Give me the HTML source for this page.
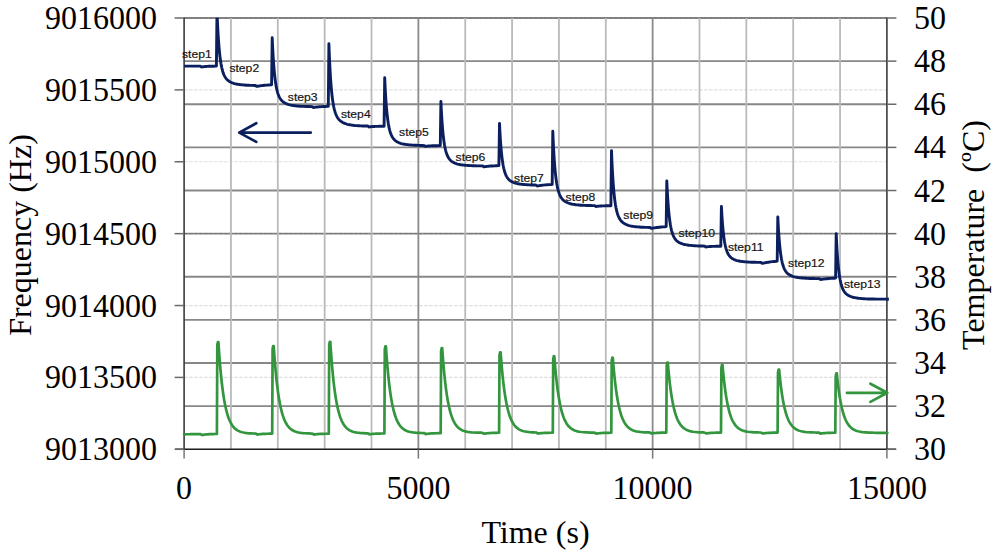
<!DOCTYPE html>
<html><head><meta charset="utf-8"><title>Frequency and Temperature vs Time</title>
<style>
html,body{margin:0;padding:0;background:#fff;}
body{width:1000px;height:558px;overflow:hidden;}
svg{display:block;}
.ax{font-family:"Liberation Serif",serif;font-size:32px;fill:#000;}
.st{font-family:"Liberation Sans",sans-serif;font-size:11.6px;fill:#161616;stroke:#161616;stroke-width:0.2px;}
</style></head>
<body>
<svg width="1000" height="558" viewBox="0 0 1000 558">
<defs><clipPath id="pc"><rect x="0" y="17.8" width="1000" height="558"/></clipPath></defs>
<rect width="1000" height="558" fill="#fff"/>
<line x1="184.1" y1="406.17" x2="886.9" y2="406.17" stroke="#878787" stroke-width="1.9"/><line x1="184.1" y1="363.04" x2="886.9" y2="363.04" stroke="#878787" stroke-width="1.9"/><line x1="184.1" y1="319.91" x2="886.9" y2="319.91" stroke="#878787" stroke-width="1.9"/><line x1="184.1" y1="276.78" x2="886.9" y2="276.78" stroke="#878787" stroke-width="1.9"/><line x1="184.1" y1="233.65" x2="886.9" y2="233.65" stroke="#878787" stroke-width="1.9"/><line x1="184.1" y1="190.52" x2="886.9" y2="190.52" stroke="#878787" stroke-width="1.9"/><line x1="184.1" y1="147.39" x2="886.9" y2="147.39" stroke="#878787" stroke-width="1.9"/><line x1="184.1" y1="104.26" x2="886.9" y2="104.26" stroke="#878787" stroke-width="1.9"/><line x1="184.1" y1="61.13" x2="886.9" y2="61.13" stroke="#878787" stroke-width="1.9"/><line x1="184.1" y1="18.00" x2="886.9" y2="18.00" stroke="#878787" stroke-width="1.9"/><line x1="184.1" y1="449.30" x2="886.9" y2="449.30" stroke="rgba(0,0,0,0.13)" stroke-width="1.2" stroke-dasharray="3.5 1.5"/><line x1="184.1" y1="377.42" x2="886.9" y2="377.42" stroke="rgba(0,0,0,0.13)" stroke-width="1.2" stroke-dasharray="3.5 1.5"/><line x1="184.1" y1="305.53" x2="886.9" y2="305.53" stroke="rgba(0,0,0,0.13)" stroke-width="1.2" stroke-dasharray="3.5 1.5"/><line x1="184.1" y1="233.65" x2="886.9" y2="233.65" stroke="rgba(0,0,0,0.13)" stroke-width="1.2" stroke-dasharray="3.5 1.5"/><line x1="184.1" y1="161.77" x2="886.9" y2="161.77" stroke="rgba(0,0,0,0.13)" stroke-width="1.2" stroke-dasharray="3.5 1.5"/><line x1="184.1" y1="89.88" x2="886.9" y2="89.88" stroke="rgba(0,0,0,0.13)" stroke-width="1.2" stroke-dasharray="3.5 1.5"/><line x1="184.1" y1="18.00" x2="886.9" y2="18.00" stroke="rgba(0,0,0,0.13)" stroke-width="1.2" stroke-dasharray="3.5 1.5"/><line x1="230.95" y1="18.0" x2="230.95" y2="449.3" stroke="#bababa" stroke-width="1.8"/><line x1="277.81" y1="18.0" x2="277.81" y2="449.3" stroke="#bababa" stroke-width="1.8"/><line x1="324.66" y1="18.0" x2="324.66" y2="449.3" stroke="#bababa" stroke-width="1.8"/><line x1="371.51" y1="18.0" x2="371.51" y2="449.3" stroke="#bababa" stroke-width="1.8"/><line x1="418.37" y1="18.0" x2="418.37" y2="449.3" stroke="#8a8a8a" stroke-width="1.8"/><line x1="465.22" y1="18.0" x2="465.22" y2="449.3" stroke="#bababa" stroke-width="1.8"/><line x1="512.07" y1="18.0" x2="512.07" y2="449.3" stroke="#bababa" stroke-width="1.8"/><line x1="558.93" y1="18.0" x2="558.93" y2="449.3" stroke="#bababa" stroke-width="1.8"/><line x1="605.78" y1="18.0" x2="605.78" y2="449.3" stroke="#bababa" stroke-width="1.8"/><line x1="652.63" y1="18.0" x2="652.63" y2="449.3" stroke="#8a8a8a" stroke-width="1.8"/><line x1="699.49" y1="18.0" x2="699.49" y2="449.3" stroke="#bababa" stroke-width="1.8"/><line x1="746.34" y1="18.0" x2="746.34" y2="449.3" stroke="#bababa" stroke-width="1.8"/><line x1="793.19" y1="18.0" x2="793.19" y2="449.3" stroke="#bababa" stroke-width="1.8"/><line x1="840.05" y1="18.0" x2="840.05" y2="449.3" stroke="#bababa" stroke-width="1.8"/>
<line x1="184.1" y1="17.5" x2="184.1" y2="449.3" stroke="#3a3a3a" stroke-width="1.6"/><line x1="886.9" y1="17.5" x2="886.9" y2="449.3" stroke="#3a3a3a" stroke-width="1.6"/><line x1="175.1" y1="449.3" x2="895.9" y2="449.3" stroke="#1e1e1e" stroke-width="1.6"/><line x1="174.6" y1="449.30" x2="184.1" y2="449.30" stroke="#6a6a6a" stroke-width="1.5"/><line x1="174.6" y1="377.42" x2="184.1" y2="377.42" stroke="#6a6a6a" stroke-width="1.5"/><line x1="174.6" y1="305.53" x2="184.1" y2="305.53" stroke="#6a6a6a" stroke-width="1.5"/><line x1="174.6" y1="233.65" x2="184.1" y2="233.65" stroke="#6a6a6a" stroke-width="1.5"/><line x1="174.6" y1="161.77" x2="184.1" y2="161.77" stroke="#6a6a6a" stroke-width="1.5"/><line x1="174.6" y1="89.88" x2="184.1" y2="89.88" stroke="#6a6a6a" stroke-width="1.5"/><line x1="174.6" y1="18.00" x2="184.1" y2="18.00" stroke="#6a6a6a" stroke-width="1.5"/><line x1="886.9" y1="449.30" x2="896.4" y2="449.30" stroke="#6a6a6a" stroke-width="1.5"/><line x1="886.9" y1="406.17" x2="896.4" y2="406.17" stroke="#6a6a6a" stroke-width="1.5"/><line x1="886.9" y1="363.04" x2="896.4" y2="363.04" stroke="#6a6a6a" stroke-width="1.5"/><line x1="886.9" y1="319.91" x2="896.4" y2="319.91" stroke="#6a6a6a" stroke-width="1.5"/><line x1="886.9" y1="276.78" x2="896.4" y2="276.78" stroke="#6a6a6a" stroke-width="1.5"/><line x1="886.9" y1="233.65" x2="896.4" y2="233.65" stroke="#6a6a6a" stroke-width="1.5"/><line x1="886.9" y1="190.52" x2="896.4" y2="190.52" stroke="#6a6a6a" stroke-width="1.5"/><line x1="886.9" y1="147.39" x2="896.4" y2="147.39" stroke="#6a6a6a" stroke-width="1.5"/><line x1="886.9" y1="104.26" x2="896.4" y2="104.26" stroke="#6a6a6a" stroke-width="1.5"/><line x1="886.9" y1="61.13" x2="896.4" y2="61.13" stroke="#6a6a6a" stroke-width="1.5"/><line x1="886.9" y1="18.00" x2="896.4" y2="18.00" stroke="#6a6a6a" stroke-width="1.5"/><line x1="184.10" y1="449.3" x2="184.10" y2="458.6" stroke="#777" stroke-width="1.5"/><line x1="418.37" y1="449.3" x2="418.37" y2="458.6" stroke="#777" stroke-width="1.5"/><line x1="652.63" y1="449.3" x2="652.63" y2="458.6" stroke="#777" stroke-width="1.5"/><line x1="886.90" y1="449.3" x2="886.90" y2="458.6" stroke="#777" stroke-width="1.5"/>
<path d="M184.10,434.30 L184.50,434.29 L184.90,434.29 L185.30,434.28 L185.70,434.28 L186.10,434.27 L186.50,434.27 L186.90,434.26 L187.30,434.26 L187.70,434.25 L188.10,434.25 L188.50,434.24 L188.90,434.24 L189.30,434.23 L189.70,434.23 L190.10,434.22 L190.50,434.22 L190.90,434.21 L191.30,434.21 L191.70,434.20 L192.10,434.20 L192.50,434.19 L192.90,434.19 L193.30,434.18 L193.70,434.18 L194.10,434.17 L195.10,434.16 L196.10,434.15 L197.10,434.14 L198.10,434.12 L199.10,434.11 L200.10,434.10 L200.50,434.11 L200.90,434.22 L201.30,434.56 L201.70,435.00 L202.10,435.03 L202.50,434.96 L202.90,434.88 L203.30,434.81 L203.70,434.75 L204.10,434.69 L204.50,434.64 L204.90,434.59 L205.30,434.54 L205.70,434.50 L206.10,434.46 L206.50,434.42 L206.90,434.38 L207.30,434.35 L207.70,434.32 L208.10,434.29 L209.10,434.22 L211.10,434.12 L213.10,434.04 L215.10,433.98 L216.90,433.90 L217.30,345.00 L217.90,342.00 L218.40,342.03 L218.80,348.15 L219.20,353.86 L219.60,359.19 L220.00,364.16 L220.40,368.81 L220.80,373.14 L221.20,377.19 L221.60,380.96 L222.00,384.49 L222.40,387.77 L222.80,390.84 L223.20,393.71 L223.60,396.38 L224.00,398.88 L224.40,401.21 L224.80,403.38 L225.20,405.41 L225.60,407.30 L226.00,409.07 L226.40,410.72 L226.80,412.26 L227.20,413.69 L227.60,415.03 L228.00,416.28 L228.40,417.45 L229.40,420.04 L230.40,422.22 L231.40,424.05 L232.40,425.59 L233.40,426.89 L234.40,427.98 L235.40,428.90 L236.40,429.67 L237.40,430.31 L238.40,430.86 L239.40,431.32 L240.40,431.70 L241.40,432.02 L242.40,432.29 L243.40,432.52 L245.40,432.87 L247.40,433.11 L249.40,433.28 L251.40,433.40 L253.40,433.48 L255.40,433.53 L255.80,433.56 L256.20,433.68 L256.60,434.04 L257.00,434.48 L257.40,434.53 L257.80,434.46 L258.20,434.40 L258.60,434.34 L259.00,434.28 L259.40,434.23 L259.80,434.19 L260.20,434.14 L260.60,434.10 L261.00,434.07 L261.40,434.03 L261.80,434.00 L262.20,433.97 L262.60,433.94 L263.00,433.92 L263.40,433.90 L265.40,433.80 L267.40,433.73 L269.40,433.69 L271.40,433.65 L272.20,433.60 L272.60,349.00 L273.20,346.00 L273.70,346.04 L274.10,351.88 L274.50,357.32 L274.90,362.41 L275.30,367.15 L275.70,371.58 L276.10,375.71 L276.50,379.57 L276.90,383.17 L277.30,386.54 L277.70,389.67 L278.10,392.60 L278.50,395.34 L278.90,397.89 L279.30,400.27 L279.70,402.49 L280.10,404.57 L280.50,406.50 L280.90,408.31 L281.30,410.00 L281.70,411.57 L282.10,413.04 L282.50,414.41 L282.90,415.69 L283.30,416.89 L283.70,418.00 L284.10,419.05 L285.10,421.36 L286.10,423.30 L287.10,424.94 L288.10,426.31 L289.10,427.47 L290.10,428.45 L291.10,429.27 L292.10,429.97 L293.10,430.55 L294.10,431.04 L295.10,431.45 L296.10,431.80 L297.10,432.09 L298.10,432.34 L299.10,432.55 L301.10,432.87 L303.10,433.10 L305.10,433.27 L307.10,433.39 L309.10,433.47 L311.10,433.53 L313.10,433.94 L313.50,434.41 L313.90,434.57 L314.30,434.50 L314.70,434.44 L315.10,434.38 L315.50,434.32 L315.90,434.27 L316.30,434.23 L316.70,434.19 L317.10,434.15 L317.50,434.11 L317.90,434.08 L318.30,434.05 L318.70,434.02 L319.10,433.99 L319.50,433.97 L319.90,433.95 L321.90,433.86 L323.90,433.81 L325.90,433.77 L327.90,433.75 L328.80,433.70 L329.20,344.80 L329.80,341.80 L330.30,341.83 L330.70,347.95 L331.10,353.66 L331.50,358.99 L331.90,363.97 L332.30,368.61 L332.70,372.94 L333.10,376.99 L333.50,380.76 L333.90,384.29 L334.30,387.58 L334.70,390.65 L335.10,393.51 L335.50,396.18 L335.90,398.68 L336.30,401.01 L336.70,403.18 L337.10,405.21 L337.50,407.10 L337.90,408.87 L338.30,410.52 L338.70,412.06 L339.10,413.50 L339.50,414.84 L339.90,416.09 L340.30,417.26 L340.70,418.34 L341.70,420.76 L342.70,422.79 L343.70,424.50 L344.70,425.94 L345.70,427.15 L346.70,428.17 L347.70,429.02 L348.70,429.74 L349.70,430.35 L350.70,430.85 L351.70,431.28 L352.70,431.64 L353.70,431.94 L354.70,432.19 L355.70,432.40 L357.70,432.73 L359.70,432.95 L361.70,433.11 L363.70,433.22 L365.70,433.29 L367.70,433.35 L368.10,433.38 L368.50,433.55 L368.90,433.96 L369.30,434.35 L369.70,434.32 L370.10,434.25 L370.50,434.19 L370.90,434.13 L371.30,434.07 L371.70,434.03 L372.10,433.98 L372.50,433.94 L372.90,433.90 L373.30,433.86 L373.70,433.83 L374.10,433.80 L374.50,433.77 L374.90,433.74 L375.30,433.72 L375.70,433.69 L377.70,433.60 L379.70,433.53 L381.70,433.48 L383.70,433.45 L384.40,433.40 L384.80,349.30 L385.40,346.30 L385.90,346.33 L386.30,352.13 L386.70,357.54 L387.10,362.59 L387.50,367.31 L387.90,371.71 L388.30,375.82 L388.70,379.65 L389.10,383.23 L389.50,386.57 L389.90,389.68 L390.30,392.59 L390.70,395.31 L391.10,397.84 L391.50,400.21 L391.90,402.41 L392.30,404.47 L392.70,406.40 L393.10,408.19 L393.50,409.87 L393.90,411.43 L394.30,412.89 L394.70,414.25 L395.10,415.52 L395.50,416.70 L395.90,417.81 L396.30,418.84 L397.30,421.13 L398.30,423.06 L399.30,424.68 L400.30,426.04 L401.30,427.19 L402.30,428.15 L403.30,428.96 L404.30,429.64 L405.30,430.22 L406.30,430.70 L407.30,431.10 L408.30,431.44 L409.30,431.73 L410.30,431.96 L411.30,432.16 L413.30,432.47 L415.30,432.69 L417.30,432.84 L419.30,432.94 L421.30,433.01 L423.30,433.06 L423.70,433.06 L424.10,433.07 L424.50,433.13 L424.90,433.35 L425.30,433.81 L425.70,434.09 L426.10,434.02 L426.50,433.95 L426.90,433.89 L427.30,433.83 L427.70,433.78 L428.10,433.73 L428.50,433.68 L428.90,433.64 L429.30,433.60 L429.70,433.56 L430.10,433.53 L430.50,433.50 L430.90,433.47 L431.30,433.44 L431.70,433.42 L432.10,433.39 L434.10,433.30 L436.10,433.24 L438.10,433.19 L440.10,433.15 L440.70,433.10 L441.10,351.00 L441.70,348.00 L442.20,348.03 L442.60,353.69 L443.00,358.98 L443.40,363.92 L443.80,368.52 L444.20,372.82 L444.60,376.83 L445.00,380.58 L445.40,384.07 L445.80,387.34 L446.20,390.38 L446.60,393.22 L447.00,395.87 L447.40,398.35 L447.80,400.66 L448.20,402.82 L448.60,404.83 L449.00,406.71 L449.40,408.46 L449.80,410.09 L450.20,411.62 L450.60,413.04 L451.00,414.37 L451.40,415.61 L451.80,416.77 L452.20,417.85 L452.60,418.86 L453.60,421.10 L454.60,422.98 L455.60,424.56 L456.60,425.89 L457.60,427.01 L458.60,427.95 L459.60,428.74 L460.60,429.40 L461.60,429.96 L462.60,430.43 L463.60,430.82 L464.60,431.15 L465.60,431.42 L466.60,431.66 L467.60,431.85 L469.60,432.15 L471.60,432.35 L473.60,432.50 L475.60,432.59 L477.60,432.66 L479.60,432.70 L481.60,432.72 L483.60,433.34 L484.00,433.72 L484.40,433.68 L484.80,433.61 L485.20,433.55 L485.60,433.49 L486.00,433.43 L486.40,433.38 L486.80,433.33 L487.20,433.28 L487.60,433.24 L488.00,433.20 L488.40,433.17 L488.80,433.13 L489.20,433.10 L489.60,433.07 L490.00,433.05 L490.40,433.02 L492.40,432.92 L494.40,432.85 L496.40,432.80 L498.40,432.76 L499.10,432.70 L499.50,355.30 L500.10,352.30 L500.60,352.34 L501.00,357.69 L501.40,362.69 L501.80,367.36 L502.20,371.71 L502.60,375.77 L503.00,379.57 L503.40,383.11 L503.80,386.41 L504.20,389.50 L504.60,392.38 L505.00,395.06 L505.40,397.57 L505.80,399.91 L506.20,402.10 L506.60,404.14 L507.00,406.04 L507.40,407.82 L507.80,409.47 L508.20,411.02 L508.60,412.47 L509.00,413.81 L509.40,415.07 L509.80,416.25 L510.20,417.34 L510.60,418.37 L511.00,419.32 L512.00,421.44 L513.00,423.22 L514.00,424.72 L515.00,425.99 L516.00,427.05 L517.00,427.95 L518.00,428.70 L519.00,429.33 L520.00,429.87 L521.00,430.31 L522.00,430.69 L523.00,431.01 L524.00,431.28 L525.00,431.50 L526.00,431.69 L528.00,431.99 L530.00,432.19 L532.00,432.34 L534.00,432.45 L536.00,432.52 L536.40,432.55 L536.80,432.67 L537.20,433.03 L537.60,433.49 L538.00,433.53 L538.40,433.47 L538.80,433.41 L539.20,433.35 L539.60,433.30 L540.00,433.25 L540.40,433.21 L540.80,433.17 L541.20,433.13 L541.60,433.10 L542.00,433.07 L542.40,433.04 L542.80,433.01 L543.20,432.99 L543.60,432.97 L544.00,432.94 L546.00,432.86 L548.00,432.81 L550.00,432.77 L552.00,432.75 L552.80,432.70 L553.20,359.20 L553.80,356.20 L554.30,356.24 L554.70,361.33 L555.10,366.09 L555.50,370.53 L555.90,374.67 L556.30,378.54 L556.70,382.15 L557.10,385.51 L557.50,388.66 L557.90,391.59 L558.30,394.33 L558.70,396.89 L559.10,399.28 L559.50,401.50 L559.90,403.58 L560.30,405.52 L560.70,407.33 L561.10,409.02 L561.50,410.60 L561.90,412.07 L562.30,413.45 L562.70,414.73 L563.10,415.93 L563.50,417.05 L563.90,418.09 L564.30,419.06 L564.70,419.97 L565.70,421.99 L566.70,423.68 L567.70,425.11 L568.70,426.31 L569.70,427.32 L570.70,428.18 L571.70,428.89 L572.70,429.50 L573.70,430.00 L574.70,430.43 L575.70,430.79 L576.70,431.09 L577.70,431.35 L578.70,431.56 L579.70,431.74 L581.70,432.02 L583.70,432.22 L585.70,432.36 L587.70,432.46 L589.70,432.53 L591.70,432.58 L593.70,432.61 L595.70,433.12 L596.10,433.56 L596.50,433.61 L596.90,433.54 L597.30,433.47 L597.70,433.41 L598.10,433.36 L598.50,433.31 L598.90,433.26 L599.30,433.22 L599.70,433.18 L600.10,433.14 L600.50,433.11 L600.90,433.07 L601.30,433.04 L601.70,433.02 L602.10,432.99 L602.50,432.97 L604.50,432.88 L606.50,432.82 L608.50,432.78 L610.50,432.75 L611.30,432.70 L611.70,360.70 L612.30,357.70 L612.80,357.73 L613.20,362.73 L613.60,367.39 L614.00,371.74 L614.40,375.80 L614.80,379.59 L615.20,383.13 L615.60,386.43 L616.00,389.51 L616.40,392.39 L616.80,395.08 L617.20,397.58 L617.60,399.92 L618.00,402.10 L618.40,404.14 L618.80,406.04 L619.20,407.82 L619.60,409.47 L620.00,411.02 L620.40,412.46 L620.80,413.81 L621.20,415.07 L621.60,416.24 L622.00,417.33 L622.40,418.36 L622.80,419.31 L623.20,420.20 L624.20,422.17 L625.20,423.83 L626.20,425.23 L627.20,426.41 L628.20,427.40 L629.20,428.23 L630.20,428.93 L631.20,429.52 L632.20,430.02 L633.20,430.43 L634.20,430.78 L635.20,431.08 L636.20,431.33 L637.20,431.54 L638.20,431.71 L640.20,431.98 L642.20,432.17 L644.20,432.31 L646.20,432.40 L648.20,432.46 L650.20,432.59 L650.60,432.89 L651.00,433.36 L651.40,433.51 L651.80,433.44 L652.20,433.38 L652.60,433.32 L653.00,433.26 L653.40,433.21 L653.80,433.16 L654.20,433.12 L654.60,433.08 L655.00,433.05 L655.40,433.01 L655.80,432.98 L656.20,432.95 L656.60,432.92 L657.00,432.90 L657.40,432.88 L659.40,432.79 L661.40,432.72 L663.40,432.68 L665.40,432.65 L666.30,432.60 L666.70,365.60 L667.30,362.60 L667.80,362.64 L668.20,367.30 L668.60,371.65 L669.00,375.71 L669.40,379.50 L669.80,383.04 L670.20,386.34 L670.60,389.43 L671.00,392.30 L671.40,394.99 L671.80,397.49 L672.20,399.83 L672.60,402.02 L673.00,404.05 L673.40,405.96 L673.80,407.73 L674.20,409.39 L674.60,410.94 L675.00,412.38 L675.40,413.73 L675.80,414.98 L676.20,416.16 L676.60,417.25 L677.00,418.28 L677.40,419.23 L677.80,420.12 L678.20,420.95 L679.20,422.80 L680.20,424.35 L681.20,425.66 L682.20,426.76 L683.20,427.68 L684.20,428.46 L685.20,429.12 L686.20,429.67 L687.20,430.13 L688.20,430.52 L689.20,430.85 L690.20,431.13 L691.20,431.36 L692.20,431.56 L693.20,431.72 L695.20,431.98 L697.20,432.16 L699.20,432.29 L701.20,432.38 L703.20,432.44 L705.20,432.76 L705.60,433.22 L706.00,433.50 L706.40,433.43 L706.80,433.37 L707.20,433.31 L707.60,433.25 L708.00,433.20 L708.40,433.15 L708.80,433.11 L709.20,433.07 L709.60,433.03 L710.00,433.00 L710.40,432.97 L710.80,432.94 L711.20,432.91 L711.60,432.89 L712.00,432.87 L712.40,432.85 L714.40,432.76 L716.40,432.71 L718.40,432.67 L720.40,432.65 L721.00,432.60 L721.40,367.80 L722.00,364.80 L722.50,364.84 L722.90,369.35 L723.30,373.57 L723.70,377.50 L724.10,381.17 L724.50,384.60 L724.90,387.80 L725.30,390.78 L725.70,393.57 L726.10,396.17 L726.50,398.60 L726.90,400.86 L727.30,402.98 L727.70,404.95 L728.10,406.79 L728.50,408.51 L728.90,410.12 L729.30,411.62 L729.70,413.02 L730.10,414.32 L730.50,415.54 L730.90,416.68 L731.30,417.74 L731.70,418.73 L732.10,419.65 L732.50,420.51 L732.90,421.32 L733.90,423.11 L734.90,424.61 L735.90,425.87 L736.90,426.94 L737.90,427.84 L738.90,428.59 L739.90,429.23 L740.90,429.76 L741.90,430.21 L742.90,430.59 L743.90,430.91 L744.90,431.17 L745.90,431.40 L746.90,431.59 L747.90,431.75 L749.90,432.00 L751.90,432.17 L753.90,432.30 L755.90,432.39 L757.90,432.45 L759.90,432.49 L761.90,432.89 L762.30,433.36 L762.70,433.51 L763.10,433.44 L763.50,433.38 L763.90,433.32 L764.30,433.26 L764.70,433.21 L765.10,433.16 L765.50,433.12 L765.90,433.08 L766.30,433.04 L766.70,433.01 L767.10,432.98 L767.50,432.95 L767.90,432.92 L768.30,432.89 L768.70,432.87 L770.70,432.78 L772.70,432.72 L774.70,432.68 L776.70,432.65 L777.60,432.60 L778.00,372.50 L778.60,369.50 L779.10,369.54 L779.50,373.74 L779.90,377.66 L780.30,381.33 L780.70,384.74 L781.10,387.93 L781.50,390.91 L781.90,393.69 L782.30,396.28 L782.70,398.71 L783.10,400.97 L783.50,403.07 L783.90,405.04 L784.30,406.88 L784.70,408.60 L785.10,410.20 L785.50,411.69 L785.90,413.09 L786.30,414.39 L786.70,415.60 L787.10,416.74 L787.50,417.80 L787.90,418.78 L788.30,419.71 L788.70,420.57 L789.10,421.37 L789.50,422.12 L790.50,423.79 L791.50,425.19 L792.50,426.37 L793.50,427.36 L794.50,428.20 L795.50,428.90 L796.50,429.49 L797.50,429.99 L798.50,430.41 L799.50,430.76 L800.50,431.06 L801.50,431.31 L802.50,431.53 L803.50,431.70 L804.50,431.86 L806.50,432.09 L808.50,432.26 L810.50,432.38 L812.50,432.46 L814.50,432.52 L816.50,432.57 L818.50,432.60 L818.90,432.62 L819.30,432.74 L819.70,433.09 L820.10,433.54 L820.50,433.58 L820.90,433.51 L821.30,433.45 L821.70,433.39 L822.10,433.34 L822.50,433.29 L822.90,433.24 L823.30,433.20 L823.70,433.16 L824.10,433.12 L824.50,433.09 L824.90,433.06 L825.30,433.03 L825.70,433.00 L826.10,432.98 L826.50,432.96 L828.50,432.87 L830.50,432.81 L832.50,432.77 L834.50,432.75 L835.30,432.70 L835.70,376.40 L836.30,373.40 L836.80,373.44 L837.20,377.39 L837.60,381.08 L838.00,384.52 L838.40,387.73 L838.80,390.73 L839.20,393.53 L839.60,396.14 L840.00,398.58 L840.40,400.86 L840.80,402.98 L841.20,404.96 L841.60,406.82 L842.00,408.54 L842.40,410.16 L842.80,411.66 L843.20,413.07 L843.60,414.38 L844.00,415.60 L844.40,416.74 L844.80,417.81 L845.20,418.81 L845.60,419.74 L846.00,420.60 L846.40,421.41 L846.80,422.17 L847.20,422.88 L848.20,424.44 L849.20,425.76 L850.20,426.87 L851.20,427.81 L852.20,428.59 L853.20,429.26 L854.20,429.82 L855.20,430.29 L856.20,430.68 L857.20,431.02 L858.20,431.30 L859.20,431.54 L860.20,431.74 L861.20,431.91 L862.20,432.05 L864.20,432.28 L866.20,432.44 L868.20,432.56 L870.20,432.64 L872.20,432.70 L874.20,432.75 L876.20,432.78 L878.20,432.81 L880.20,432.83 L882.20,432.85 L884.20,432.86 L886.20,432.87 L887.30,432.89" fill="none" stroke="#33963f" stroke-width="2.7" stroke-linejoin="round" stroke-linecap="round"/><path d="M184.10,66.10 L184.50,66.10 L184.90,66.10 L185.30,66.10 L185.70,66.10 L186.10,66.10 L186.50,66.10 L186.90,66.10 L187.30,66.10 L187.70,66.10 L188.10,66.10 L188.50,66.10 L188.90,66.10 L189.30,66.10 L189.70,66.10 L190.10,66.10 L190.50,66.10 L190.90,66.10 L191.30,66.10 L191.70,66.10 L192.10,66.10 L192.50,66.10 L192.90,66.10 L193.30,66.10 L193.70,66.10 L194.10,66.10 L195.10,66.10 L196.10,66.10 L197.10,66.10 L198.10,66.10 L199.10,66.10 L199.50,66.10 L199.90,66.11 L200.30,66.18 L200.70,66.43 L201.10,66.85 L201.50,66.98 L201.90,66.91 L202.30,66.85 L202.70,66.79 L203.10,66.74 L203.50,66.69 L203.90,66.65 L204.30,66.60 L204.70,66.57 L205.10,66.53 L205.50,66.50 L205.90,66.47 L206.30,66.44 L206.70,66.41 L207.10,66.39 L207.50,66.37 L208.50,66.32 L209.50,66.28 L211.50,66.22 L213.50,66.18 L215.50,66.15 L216.40,66.10 L217.00,11.30 L217.40,20.76 L217.80,28.83 L218.20,35.75 L218.60,41.71 L219.00,46.83 L219.40,51.25 L219.80,55.07 L220.20,58.38 L220.60,61.25 L221.00,63.74 L221.40,65.92 L221.80,67.82 L222.20,69.48 L222.60,70.95 L223.00,72.24 L223.40,73.38 L223.80,74.39 L224.20,75.29 L224.60,76.09 L225.00,76.81 L225.40,77.46 L225.80,78.04 L226.20,78.57 L226.60,79.05 L227.00,79.48 L227.40,79.88 L228.40,80.73 L229.40,81.43 L230.40,82.01 L231.40,82.49 L232.40,82.90 L233.40,83.25 L234.40,83.55 L235.40,83.80 L236.40,84.03 L237.40,84.22 L238.40,84.39 L239.40,84.54 L240.40,84.67 L241.40,84.79 L242.40,84.89 L244.40,85.05 L246.40,85.18 L248.40,85.27 L250.40,85.35 L252.40,85.41 L254.40,85.45 L254.80,85.46 L255.20,85.48 L255.60,85.59 L256.00,85.91 L256.40,86.31 L256.80,86.35 L257.20,86.29 L257.60,86.24 L258.00,86.16 L258.40,86.09 L258.80,86.02 L259.20,85.95 L259.60,85.89 L260.00,85.83 L260.40,85.77 L260.80,85.72 L261.20,85.67 L261.60,85.62 L262.00,85.57 L262.40,85.52 L262.80,85.48 L264.80,85.27 L266.80,85.10 L268.80,84.94 L270.80,84.79 L271.60,84.70 L272.20,37.70 L272.60,46.48 L273.00,53.98 L273.40,60.41 L273.80,65.94 L274.20,70.70 L274.60,74.80 L275.00,78.35 L275.40,81.42 L275.80,84.09 L276.20,86.40 L276.60,88.42 L277.00,90.19 L277.40,91.73 L277.80,93.09 L278.20,94.29 L278.60,95.35 L279.00,96.29 L279.40,97.12 L279.80,97.87 L280.20,98.54 L280.60,99.14 L281.00,99.68 L281.40,100.17 L281.80,100.61 L282.20,101.02 L282.60,101.39 L283.00,101.72 L284.00,102.45 L285.00,103.05 L286.00,103.55 L287.00,103.97 L288.00,104.33 L289.00,104.63 L290.00,104.89 L291.00,105.12 L292.00,105.32 L293.00,105.49 L294.00,105.64 L295.00,105.77 L296.00,105.88 L297.00,105.98 L298.00,106.07 L300.00,106.21 L302.00,106.33 L304.00,106.41 L306.00,106.48 L308.00,106.53 L310.00,106.57 L312.00,106.63 L312.40,106.78 L312.80,107.15 L313.20,107.49 L313.60,107.46 L314.00,107.40 L314.40,107.34 L314.80,107.28 L315.20,107.22 L315.60,107.17 L316.00,107.12 L316.40,107.07 L316.80,107.02 L317.20,106.98 L317.60,106.94 L318.00,106.90 L318.40,106.86 L318.80,106.83 L319.20,106.80 L319.60,106.77 L321.60,106.63 L323.60,106.53 L325.60,106.44 L327.60,106.36 L328.30,106.30 L328.90,43.80 L329.30,54.28 L329.70,63.23 L330.10,70.92 L330.50,77.52 L330.90,83.20 L331.30,88.11 L331.70,92.34 L332.10,96.01 L332.50,99.19 L332.90,101.96 L333.30,104.37 L333.70,106.48 L334.10,108.32 L334.50,109.95 L334.90,111.38 L335.30,112.64 L335.70,113.77 L336.10,114.76 L336.50,115.65 L336.90,116.45 L337.30,117.17 L337.70,117.82 L338.10,118.40 L338.50,118.93 L338.90,119.41 L339.30,119.85 L339.70,120.26 L340.70,121.13 L341.70,121.84 L342.70,122.44 L343.70,122.94 L344.70,123.36 L345.70,123.73 L346.70,124.04 L347.70,124.31 L348.70,124.55 L349.70,124.75 L350.70,124.93 L351.70,125.09 L352.70,125.22 L353.70,125.34 L354.70,125.45 L356.70,125.62 L358.70,125.75 L360.70,125.86 L362.70,125.93 L364.70,126.00 L366.70,126.04 L367.10,126.05 L367.50,126.06 L367.90,126.11 L368.30,126.32 L368.70,126.73 L369.10,126.98 L369.50,126.92 L369.90,126.86 L370.30,126.81 L370.70,126.76 L371.10,126.71 L371.50,126.67 L371.90,126.63 L372.30,126.60 L372.70,126.57 L373.10,126.54 L373.50,126.51 L373.90,126.48 L374.30,126.46 L374.70,126.44 L375.10,126.42 L375.50,126.40 L377.50,126.33 L379.50,126.28 L381.50,126.25 L383.50,126.23 L384.10,126.20 L384.70,77.80 L385.10,86.43 L385.50,93.80 L385.90,100.12 L386.30,105.55 L386.70,110.23 L387.10,114.26 L387.50,117.74 L387.90,120.76 L388.30,123.38 L388.70,125.66 L389.10,127.64 L389.50,129.37 L389.90,130.89 L390.30,132.23 L390.70,133.41 L391.10,134.45 L391.50,135.37 L391.90,136.19 L392.30,136.92 L392.70,137.58 L393.10,138.17 L393.50,138.70 L393.90,139.18 L394.30,139.62 L394.70,140.02 L395.10,140.38 L395.50,140.71 L396.50,141.43 L397.50,142.02 L398.50,142.51 L399.50,142.92 L400.50,143.27 L401.50,143.57 L402.50,143.82 L403.50,144.05 L404.50,144.24 L405.50,144.41 L406.50,144.56 L407.50,144.68 L408.50,144.80 L409.50,144.89 L410.50,144.98 L412.50,145.12 L414.50,145.23 L416.50,145.32 L418.50,145.38 L420.50,145.43 L422.50,145.47 L424.50,145.74 L424.90,146.15 L425.30,146.41 L425.70,146.34 L426.10,146.29 L426.50,146.23 L426.90,146.18 L427.30,146.13 L427.70,146.09 L428.10,146.05 L428.50,146.01 L428.90,145.98 L429.30,145.95 L429.70,145.92 L430.10,145.90 L430.50,145.87 L430.90,145.85 L431.30,145.83 L431.70,145.81 L433.70,145.74 L435.70,145.69 L437.70,145.66 L439.70,145.64 L440.30,145.60 L440.90,101.40 L441.30,109.63 L441.70,116.64 L442.10,122.66 L442.50,127.84 L442.90,132.30 L443.30,136.14 L443.70,139.46 L444.10,142.34 L444.50,144.83 L444.90,147.00 L445.30,148.89 L445.70,150.54 L446.10,151.99 L446.50,153.26 L446.90,154.38 L447.30,155.37 L447.70,156.25 L448.10,157.04 L448.50,157.73 L448.90,158.36 L449.30,158.92 L449.70,159.43 L450.10,159.89 L450.50,160.30 L450.90,160.68 L451.30,161.03 L451.70,161.34 L452.70,162.03 L453.70,162.59 L454.70,163.05 L455.70,163.44 L456.70,163.78 L457.70,164.06 L458.70,164.31 L459.70,164.52 L460.70,164.70 L461.70,164.87 L462.70,165.01 L463.70,165.13 L464.70,165.23 L465.70,165.33 L466.70,165.41 L468.70,165.55 L470.70,165.65 L472.70,165.73 L474.70,165.79 L476.70,165.84 L478.70,165.88 L480.70,165.90 L482.70,165.97 L483.10,166.17 L483.50,166.58 L483.90,166.84 L484.30,166.77 L484.70,166.71 L485.10,166.65 L485.50,166.59 L485.90,166.53 L486.30,166.47 L486.70,166.42 L487.10,166.37 L487.50,166.32 L487.90,166.28 L488.30,166.24 L488.70,166.20 L489.10,166.17 L489.50,166.13 L489.90,166.10 L490.30,166.07 L492.30,165.94 L494.30,165.83 L496.30,165.74 L498.30,165.66 L498.90,165.60 L499.50,123.40 L499.90,131.27 L500.30,137.98 L500.70,143.74 L501.10,148.70 L501.50,152.96 L501.90,156.64 L502.30,159.81 L502.70,162.56 L503.10,164.95 L503.50,167.02 L503.90,168.83 L504.30,170.41 L504.70,171.80 L505.10,173.01 L505.50,174.09 L505.90,175.04 L506.30,175.88 L506.70,176.62 L507.10,177.29 L507.50,177.89 L507.90,178.43 L508.30,178.91 L508.70,179.35 L509.10,179.75 L509.50,180.11 L509.90,180.44 L510.30,180.74 L511.30,181.40 L512.30,181.93 L513.30,182.38 L514.30,182.76 L515.30,183.07 L516.30,183.35 L517.30,183.58 L518.30,183.78 L519.30,183.96 L520.30,184.11 L521.30,184.25 L522.30,184.37 L523.30,184.47 L524.30,184.56 L525.30,184.64 L527.30,184.77 L529.30,184.86 L531.30,184.94 L533.30,185.00 L535.30,185.05 L535.70,185.06 L536.10,185.14 L536.50,185.40 L536.90,185.82 L537.30,185.96 L537.70,185.90 L538.10,185.84 L538.50,185.78 L538.90,185.70 L539.30,185.64 L539.70,185.57 L540.10,185.51 L540.50,185.46 L540.90,185.40 L541.30,185.35 L541.70,185.30 L542.10,185.25 L542.50,185.21 L542.90,185.16 L543.30,185.12 L545.30,184.93 L547.30,184.77 L549.30,184.62 L551.30,184.49 L552.20,184.40 L552.80,131.30 L553.20,140.77 L553.60,148.85 L554.00,155.79 L554.40,161.75 L554.80,166.88 L555.20,171.31 L555.60,175.13 L556.00,178.44 L556.40,181.31 L556.80,183.81 L557.20,185.99 L557.60,187.89 L558.00,189.56 L558.40,191.03 L558.80,192.32 L559.20,193.46 L559.60,194.47 L560.00,195.37 L560.40,196.18 L560.80,196.90 L561.20,197.55 L561.60,198.13 L562.00,198.66 L562.40,199.14 L562.80,199.57 L563.20,199.97 L563.60,200.34 L564.60,201.12 L565.60,201.77 L566.60,202.30 L567.60,202.76 L568.60,203.14 L569.60,203.47 L570.60,203.75 L571.60,204.00 L572.60,204.21 L573.60,204.39 L574.60,204.55 L575.60,204.69 L576.60,204.82 L577.60,204.93 L578.60,205.02 L580.60,205.18 L582.60,205.30 L584.60,205.39 L586.60,205.46 L588.60,205.51 L590.60,205.56 L592.60,205.59 L594.60,205.64 L595.00,205.79 L595.40,206.16 L595.80,206.51 L596.20,206.48 L596.60,206.42 L597.00,206.36 L597.40,206.31 L597.80,206.26 L598.20,206.21 L598.60,206.17 L599.00,206.14 L599.40,206.10 L599.80,206.07 L600.20,206.04 L600.60,206.01 L601.00,205.99 L601.40,205.96 L601.80,205.94 L602.20,205.92 L604.20,205.85 L606.20,205.80 L608.20,205.76 L610.20,205.74 L610.90,205.70 L611.50,150.60 L611.90,160.40 L612.30,168.76 L612.70,175.94 L613.10,182.11 L613.50,187.42 L613.90,192.00 L614.30,195.96 L614.70,199.39 L615.10,202.36 L615.50,204.95 L615.90,207.20 L616.30,209.17 L616.70,210.90 L617.10,212.41 L617.50,213.75 L617.90,214.93 L618.30,215.98 L618.70,216.91 L619.10,217.75 L619.50,218.49 L619.90,219.16 L620.30,219.77 L620.70,220.31 L621.10,220.81 L621.50,221.26 L621.90,221.67 L622.30,222.05 L623.30,222.86 L624.30,223.53 L625.30,224.09 L626.30,224.55 L627.30,224.95 L628.30,225.29 L629.30,225.58 L630.30,225.84 L631.30,226.06 L632.30,226.25 L633.30,226.41 L634.30,226.56 L635.30,226.69 L636.30,226.80 L637.30,226.90 L639.30,227.06 L641.30,227.18 L643.30,227.28 L645.30,227.35 L647.30,227.41 L649.30,227.45 L649.70,227.47 L650.10,227.54 L650.50,227.80 L650.90,228.23 L651.30,228.37 L651.70,228.31 L652.10,228.25 L652.50,228.18 L652.90,228.10 L653.30,228.02 L653.70,227.96 L654.10,227.89 L654.50,227.83 L654.90,227.77 L655.30,227.71 L655.70,227.65 L656.10,227.60 L656.50,227.55 L656.90,227.50 L657.30,227.45 L659.30,227.23 L661.30,227.04 L663.30,226.86 L665.30,226.70 L666.20,226.60 L666.80,180.90 L667.20,189.21 L667.60,196.31 L668.00,202.39 L668.40,207.63 L668.80,212.13 L669.20,216.02 L669.60,219.37 L670.00,222.28 L670.40,224.80 L670.80,226.99 L671.20,228.90 L671.60,230.57 L672.00,232.04 L672.40,233.32 L672.80,234.46 L673.20,235.46 L673.60,236.35 L674.00,237.14 L674.40,237.84 L674.80,238.48 L675.20,239.05 L675.60,239.56 L676.00,240.02 L676.40,240.44 L676.80,240.82 L677.20,241.17 L677.60,241.49 L678.60,242.18 L679.60,242.75 L680.60,243.22 L681.60,243.62 L682.60,243.95 L683.60,244.24 L684.60,244.49 L685.60,244.70 L686.60,244.89 L687.60,245.05 L688.60,245.19 L689.60,245.32 L690.60,245.43 L691.60,245.52 L692.60,245.60 L694.60,245.74 L696.60,245.85 L698.60,245.93 L700.60,245.99 L702.60,246.04 L704.60,246.12 L705.00,246.32 L705.40,246.74 L705.80,246.99 L706.20,246.93 L706.60,246.87 L707.00,246.82 L707.40,246.77 L707.80,246.72 L708.20,246.68 L708.60,246.64 L709.00,246.60 L709.40,246.57 L709.80,246.54 L710.20,246.51 L710.60,246.49 L711.00,246.46 L711.40,246.44 L711.80,246.42 L712.20,246.40 L714.20,246.33 L716.20,246.28 L718.20,246.25 L720.20,246.23 L720.80,246.20 L721.40,206.40 L721.80,213.55 L722.20,219.64 L722.60,224.87 L723.00,229.37 L723.40,233.24 L723.80,236.57 L724.20,239.46 L724.60,241.95 L725.00,244.12 L725.40,246.00 L725.80,247.64 L726.20,249.08 L726.60,250.33 L727.00,251.44 L727.40,252.41 L727.80,253.27 L728.20,254.04 L728.60,254.72 L729.00,255.32 L729.40,255.87 L729.80,256.35 L730.20,256.79 L730.60,257.19 L731.00,257.55 L731.40,257.88 L731.80,258.18 L732.20,258.46 L733.20,259.05 L734.20,259.54 L735.20,259.94 L736.20,260.28 L737.20,260.57 L738.20,260.82 L739.20,261.03 L740.20,261.22 L741.20,261.38 L742.20,261.51 L743.20,261.64 L744.20,261.74 L745.20,261.84 L746.20,261.92 L747.20,261.99 L749.20,262.11 L751.20,262.20 L753.20,262.27 L755.20,262.32 L757.20,262.36 L759.20,262.39 L761.20,262.53 L761.60,262.85 L762.00,263.25 L762.40,263.29 L762.80,263.23 L763.20,263.17 L763.60,263.08 L764.00,262.99 L764.40,262.90 L764.80,262.82 L765.20,262.74 L765.60,262.67 L766.00,262.60 L766.40,262.53 L766.80,262.46 L767.20,262.39 L767.60,262.33 L768.00,262.27 L768.40,262.21 L770.40,261.93 L772.40,261.68 L774.40,261.44 L776.40,261.22 L777.20,261.10 L777.80,216.90 L778.20,224.77 L778.60,231.48 L779.00,237.24 L779.40,242.20 L779.80,246.46 L780.20,250.14 L780.60,253.31 L781.00,256.06 L781.40,258.45 L781.80,260.52 L782.20,262.33 L782.60,263.91 L783.00,265.30 L783.40,266.51 L783.80,267.59 L784.20,268.54 L784.60,269.38 L785.00,270.12 L785.40,270.79 L785.80,271.39 L786.20,271.93 L786.60,272.41 L787.00,272.85 L787.40,273.25 L787.80,273.61 L788.20,273.94 L788.60,274.24 L789.60,274.90 L790.60,275.43 L791.60,275.88 L792.60,276.26 L793.60,276.57 L794.60,276.85 L795.60,277.08 L796.60,277.28 L797.60,277.46 L798.60,277.61 L799.60,277.75 L800.60,277.87 L801.60,277.97 L802.60,278.06 L803.60,278.14 L805.60,278.27 L807.60,278.36 L809.60,278.44 L811.60,278.50 L813.60,278.55 L815.60,278.58 L817.60,278.61 L819.60,278.75 L820.00,279.06 L820.40,279.47 L820.80,279.50 L821.20,279.44 L821.60,279.38 L822.00,279.31 L822.40,279.24 L822.80,279.18 L823.20,279.12 L823.60,279.07 L824.00,279.01 L824.40,278.96 L824.80,278.92 L825.20,278.87 L825.60,278.83 L826.00,278.79 L826.40,278.75 L826.80,278.71 L828.80,278.54 L830.80,278.41 L832.80,278.29 L834.80,278.18 L835.60,278.10 L836.20,233.80 L836.60,242.13 L837.00,249.23 L837.40,255.33 L837.80,260.57 L838.20,265.08 L838.60,268.97 L839.00,272.33 L839.40,275.24 L839.80,277.77 L840.20,279.96 L840.60,281.88 L841.00,283.55 L841.40,285.01 L841.80,286.30 L842.20,287.44 L842.60,288.44 L843.00,289.33 L843.40,290.12 L843.80,290.83 L844.20,291.47 L844.60,292.03 L845.00,292.55 L845.40,293.01 L845.80,293.43 L846.20,293.81 L846.60,294.16 L847.00,294.48 L848.00,295.18 L849.00,295.74 L850.00,296.22 L851.00,296.61 L852.00,296.95 L853.00,297.24 L854.00,297.49 L855.00,297.70 L856.00,297.89 L857.00,298.05 L858.00,298.19 L859.00,298.32 L860.00,298.42 L861.00,298.52 L862.00,298.60 L864.00,298.74 L866.00,298.85 L868.00,298.93 L870.00,298.99 L872.00,299.04 L874.00,299.07 L876.00,299.10 L878.00,299.13 L880.00,299.14 L882.00,299.16 L884.00,299.17 L886.00,299.17 L888.00,299.18 L888.90,299.20" clip-path="url(#pc)" fill="none" stroke="#0b1f5e" stroke-width="2.9" stroke-linejoin="round" stroke-linecap="butt"/>
<path d="M310.8,132.6 L239.6,132.6 M256.3,123.2 L239.2,132.6 L256.3,141.9" fill="none" stroke="#0b1f5e" stroke-width="2.7" stroke-linecap="round" stroke-linejoin="round"/><path d="M846.9,392.8 L887.0,392.8 M870.4,383.7 L887.3,392.8 L870.4,401.9" fill="none" stroke="#33963f" stroke-width="2.7" stroke-linecap="round" stroke-linejoin="round"/>
<text transform="translate(182.0,58.3) scale(1.05,1)" class="st">step1</text><text transform="translate(229.4,72.4) scale(1.05,1)" class="st">step2</text><text transform="translate(287.8,100.9) scale(1.05,1)" class="st">step3</text><text transform="translate(340.9,118.1) scale(1.05,1)" class="st">step4</text><text transform="translate(399.1,136.1) scale(1.05,1)" class="st">step5</text><text transform="translate(455.6,160.6) scale(1.05,1)" class="st">step6</text><text transform="translate(514.1,181.8) scale(1.05,1)" class="st">step7</text><text transform="translate(565.6,201.1) scale(1.05,1)" class="st">step8</text><text transform="translate(623.3,218.6) scale(1.05,1)" class="st">step9</text><text transform="translate(678.6,236.9) scale(1.05,1)" class="st">step10</text><text transform="translate(727.9,251.3) scale(1.05,1)" class="st">step11</text><text transform="translate(788.1,266.8) scale(1.05,1)" class="st">step12</text><text transform="translate(844.0,288.1) scale(1.05,1)" class="st">step13</text>
<text transform="translate(157,460.3) scale(1,1.06)" class="ax" text-anchor="end">9013000</text><text transform="translate(157,388.4) scale(1,1.06)" class="ax" text-anchor="end">9013500</text><text transform="translate(157,316.5) scale(1,1.06)" class="ax" text-anchor="end">9014000</text><text transform="translate(157,244.7) scale(1,1.06)" class="ax" text-anchor="end">9014500</text><text transform="translate(157,172.8) scale(1,1.06)" class="ax" text-anchor="end">9015000</text><text transform="translate(157,100.9) scale(1,1.06)" class="ax" text-anchor="end">9015500</text><text transform="translate(157,29.0) scale(1,1.06)" class="ax" text-anchor="end">9016000</text><text transform="translate(914,460.3) scale(1,1.06)" class="ax">30</text><text transform="translate(914,417.2) scale(1,1.06)" class="ax">32</text><text transform="translate(914,374.0) scale(1,1.06)" class="ax">34</text><text transform="translate(914,330.9) scale(1,1.06)" class="ax">36</text><text transform="translate(914,287.8) scale(1,1.06)" class="ax">38</text><text transform="translate(914,244.7) scale(1,1.06)" class="ax">40</text><text transform="translate(914,201.5) scale(1,1.06)" class="ax">42</text><text transform="translate(914,158.4) scale(1,1.06)" class="ax">44</text><text transform="translate(914,115.3) scale(1,1.06)" class="ax">46</text><text transform="translate(914,72.1) scale(1,1.06)" class="ax">48</text><text transform="translate(914,29.0) scale(1,1.06)" class="ax">50</text><text transform="translate(184.1,499) scale(1,1.06)" class="ax" text-anchor="middle">0</text><text transform="translate(418.4,499) scale(1,1.06)" class="ax" text-anchor="middle">5000</text><text transform="translate(652.6,499) scale(1,1.06)" class="ax" text-anchor="middle">10000</text><text transform="translate(886.9,499) scale(1,1.06)" class="ax" text-anchor="middle">15000</text>
<text x="535.5" y="543.2" class="ax" text-anchor="middle">Time (s)</text><text transform="translate(31,235) rotate(-90)" class="ax" text-anchor="middle">Frequency (Hz)</text><text transform="translate(984,235) rotate(-90)" class="ax" text-anchor="middle" xml:space="preserve">Temperature  (&#186;C)</text>
</svg>
</body></html>
